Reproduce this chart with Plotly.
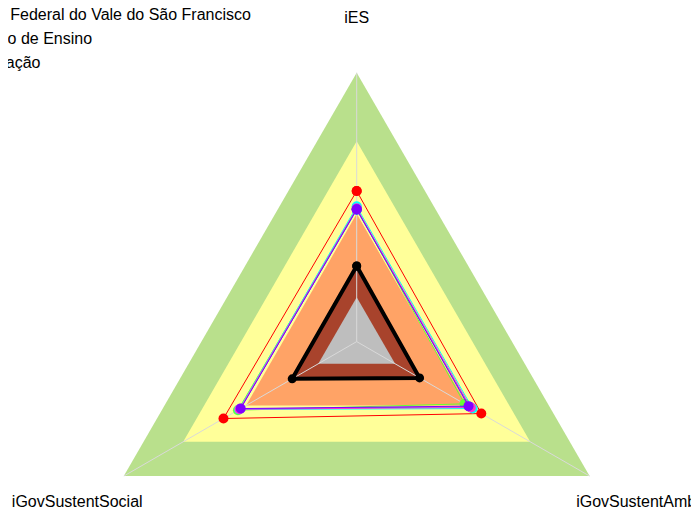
import plotly.graph_objects as go

# eixos do radar (sentido horário a partir do topo)
eixos = ["iES", "iGovSustentAmb", "iGovSustentSocial"]

# faixas de referência (limite superior de cada nível)
faixa_limites = [1.0, 0.745, 0.475, 0.27, 0.165]
faixa_cores = ["#B9E08C", "#FFFF99", "#FFA366", "#A8432C", "#BEBEBE"]

# séries (iES, iGovSustentAmb, iGovSustentSocial)
nomes = [
    "Universidade Federal do Vale do São Francisco",
    "Média Instituto de Ensino",
    "Média Informação",
]
ufvsf = [0.56, 0.535, 0.572]
ciano = [0.502, 0.498, 0.505]
verde = [0.495, 0.463, 0.51]
azul = [0.49, 0.485, 0.50]
magenta = [0.495, 0.49, 0.503]
roxo = [0.492, 0.48, 0.498]
preto = [0.281, 0.27, 0.277]

fig = go.Figure()

# faixas preenchidas
for lim, cor in zip(faixa_limites, faixa_cores):
    fig.add_trace(go.Scatterpolar(
        r=[lim] * 3 + [lim], theta=eixos + [eixos[0]],
        mode="lines", fill="toself", fillcolor=cor,
        line=dict(color=cor, width=0), showlegend=False, hoverinfo="skip"
    ))

# raios (linhas de grade por cima das faixas)
raio_r, raio_t = [], []
for e in eixos:
    raio_r += [0, 1, None]
    raio_t += [e, e, None]
fig.add_trace(go.Scatterpolar(
    r=raio_r, theta=raio_t, mode="lines",
    line=dict(color="#D9D9D9", width=1), showlegend=False, hoverinfo="skip"
))

def serie(vals, cor, nome=None, largura=1, tam=10):
    fig.add_trace(go.Scatterpolar(
        r=vals + [vals[0]], theta=eixos + [eixos[0]],
        mode="lines+markers", name=nome or "",
        line=dict(color=cor, width=largura),
        marker=dict(color=cor, size=tam),
        showlegend=nome is not None
    ))

serie(ufvsf, "#FF0000", nomes[0])
serie(verde, "#66FF33")
serie(ciano, "#00FFFF")
serie(azul, "#3366FF")
serie(magenta, "#FF33CC")
serie(roxo, "#8000FF", nomes[1])
serie(preto, "#000000", nomes[2], largura=4, tam=9)

# rótulos dos eixos
fig.add_trace(go.Scatterpolar(
    r=[1.2] * 3, theta=eixos, mode="text", text=eixos,
    textposition="middle center", cliponaxis=False,
    textfont=dict(size=16, color="#000000"),
    showlegend=False, hoverinfo="skip"
))

fig.update_layout(
    width=699, height=670,
    margin=dict(l=0, r=0, t=0, b=0, autoexpand=False),
    paper_bgcolor="white",
    font=dict(family="Arial, Liberation Sans", size=16, color="#000000"),
    showlegend=True,
    legend=dict(x=-0.194, y=1.0164, xanchor="left", yanchor="top",
                bgcolor="rgba(0,0,0,0)", font=dict(size=16)),
    polar=dict(
        domain=dict(x=[0.03333, 0.96438], y=[0.01642, 0.98776]),
        bgcolor="rgba(0,0,0,0)",
        gridshape="linear",
        radialaxis=dict(range=[0, 1.21], visible=False, showgrid=False),
        angularaxis=dict(rotation=90, direction="clockwise",
                         showgrid=False, showline=False,
                         showticklabels=False, ticks=""),
    ),
)

fig.write_html("out.html")
